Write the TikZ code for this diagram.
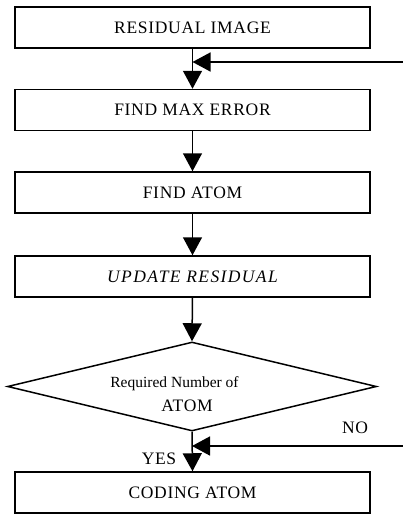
\documentclass[tikz,border=0pt]{standalone}
\usepackage{fontspec}
\setmainfont{Liberation Serif}
\newfontfamily\boxfont[LetterSpace=4]{Liberation Serif}
\newfontfamily\boxitfont[LetterSpace=8]{Liberation Serif}
\newfontfamily\qfont{Liberation Serif}
\usetikzlibrary{arrows.meta,shapes.geometric}
\tikzset{
  box/.style={draw, line width=1.5pt, minimum width=355pt, minimum height=41pt, inner sep=0pt,
    font=\boxfont\fontsize{17.5}{20}\selectfont},
  decision/.style={draw, diamond, line width=1.5pt, aspect=4.15, minimum width=369pt, minimum height=89pt, inner sep=0pt},
  arr/.style={line width=1.5pt, -{Triangle[length=18pt,width=19pt]}},
  lbl/.style={inner sep=0pt, font=\boxfont\fontsize{17.5}{20}\selectfont},
  qtext/.style={inner sep=0pt, font=\qfont\fontsize{15.5}{18}\selectfont}
}
\begin{document}
\begin{tikzpicture}[x=1pt,y=-1pt]
\useasboundingbox (0,0) rectangle (403,515);
\node[box] (b1) at (192.5,27.5) {RESIDUAL IMAGE};
\node[box] (b2) at (192.5,110) {FIND MAX ERROR};
\node[box] (b3) at (192.5,192.5) {FIND ATOM};
\node[box, font=\boxitfont\itshape\fontsize{17.5}{20}\selectfont] (b4) at (192.5,276.5) {UPDATE RESIDUAL};
\node[decision] (dia) at (192,386.5) {};
\node[qtext] (q1) at (174.5,384) {Required Number of};
\node[lbl] (q2) at (187,406) {ATOM};
\node[box] (b5) at (192.5,492.5) {CODING ATOM};
\coordinate (f1) at (403,62);
\coordinate (f2) at (403,446);
\draw[arr] (b1.south) -- (b2.north);
\draw[arr] (f1) -- (f1 -| b1.south);
\draw[arr] (b2.south) -- (b3.north);
\draw[arr] (b3.south) -- (b4.north);
\draw[arr] (b4.south) -- (dia.north);
\draw[arr] (dia.south) -- (b5.north);
\draw[arr] (f2) -- (f2 -| dia.south);
\node[lbl] (no) at (355,428) {NO};
\node[lbl] (yes) at (159,459) {YES};
\end{tikzpicture}
\end{document}
